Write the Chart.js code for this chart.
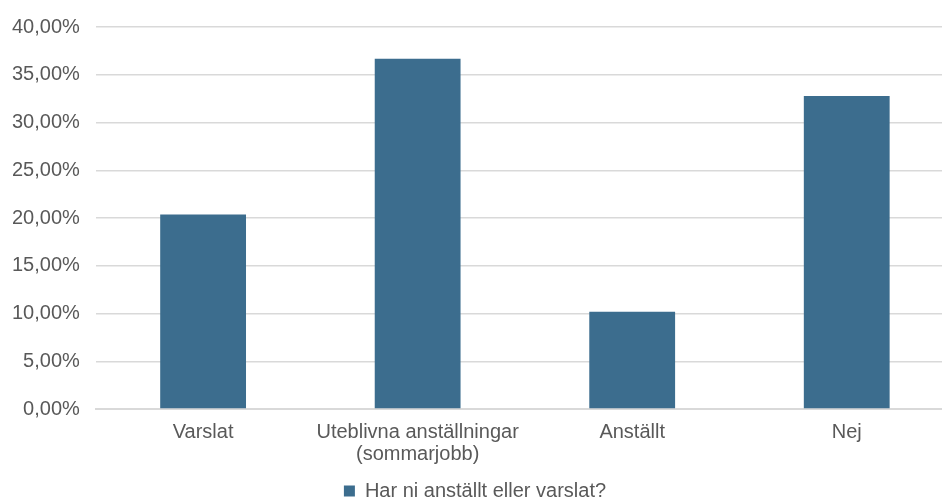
<!DOCTYPE html>
<html>
<head>
<meta charset="utf-8">
<script src="https://cdn.jsdelivr.net/npm/chart.js@4"></script>
<style>
  html, body { margin: 0; padding: 0; background: #fff; overflow: hidden; }
  #wrap { width: 966px; height: 497px; margin-left: -12px; }
</style>
</head>
<body>
<div id="wrap"><canvas id="chart"></canvas></div>
<script>
// kategorier och värden (procent)
const categories = ['Varslat', ['Uteblivna anställningar', '(sommarjobb)'], 'Anställt', 'Nej'];
const seriesName = 'Har ni anställt eller varslat?';
const values = [20.37, 36.67, 10.19, 32.77];
const yTicks = [0, 5, 10, 15, 20, 25, 30, 35, 40];

const textColor = '#595959';
const barColor = '#3C6D8E';
const font = { family: 'Liberation Sans', size: 20, lineHeight: 1.1 };

const ctx = document.getElementById('chart').getContext('2d');
const chart = new Chart(ctx, {
    type: 'bar',
    data: {
        labels: categories,
        datasets: [{
            label: seriesName,
            data: values,
            backgroundColor: barColor,
            borderWidth: 0,
            categoryPercentage: 1.0,
            barPercentage: 0.4
        }]
    },
    options: {
        responsive: true,
        maintainAspectRatio: false,
        animation: false,
        layout: { padding: { left: 8, right: 0, top: 14, bottom: -14 } },
        plugins: {
            legend: {
                position: 'bottom',
                labels: {
                    color: textColor,
                    font: font,
                    boxWidth: 11,
                    boxHeight: 11,
                    padding: 0
                }
            },
            tooltip: { enabled: false }
        },
        scales: {
            x: {
                grid: { display: false },
                border: { color: '#d9d9d9', width: 2 },
                afterFit: (axis) => { axis.height += 12; },
                ticks: {
                    color: textColor,
                    font: font,
                    maxRotation: 0,
                    padding: 4
                }
            },
            y: {
                min: 0,
                max: 40,
                afterBuildTicks: (axis) => { axis.ticks = yTicks.map(v => ({ value: v })); },
                grid: { color: '#d9d9d9', lineWidth: 1.5, drawTicks: false },
                border: { display: false },
                ticks: {
                    color: textColor,
                    font: font,
                    padding: 16,
                    callback: (v) => v.toFixed(2).replace('.', ',') + '%'
                }
            }
        }
    }
});
</script>
</body>
</html>
